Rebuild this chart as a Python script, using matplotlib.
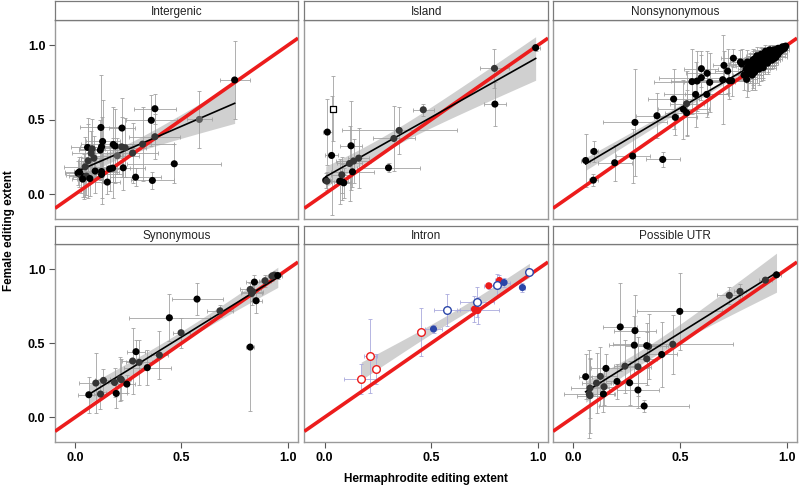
import numpy as np
import matplotlib
matplotlib.use("Agg")
import matplotlib.pyplot as plt

plt.rcParams['font.family'] = ['Liberation Sans', 'DejaVu Sans']

# ---------------- data ----------------
panel_titles = ["Intergenic", "Island", "Nonsynonymous", "Synonymous", "Intron", "Possible UTR"]
tick_values = [0.0, 0.5, 1.0]
tick_labels = ["0.0", "0.5", "1.0"]
x_label = "Hermaphrodite editing extent"
y_label = "Female editing extent"

# Intergenic
ig_x = [0.750, 0.584, 0.375, 0.358, 0.466, 0.375, 0.363, 0.284, 0.317, 0.270, 0.226, 0.220, 0.179, 0.188,
        0.218, 0.235, 0.121, 0.129, 0.124, 0.118, 0.058, 0.080, 0.075, 0.088, 0.061, 0.094, 0.124, 0.124,
        0.151, 0.176, 0.162, 0.013, 0.027, 0.042, 0.053, 0.069, 0.035, 0.198, 0.047, 0.020]
ig_y = [0.767, 0.502, 0.574, 0.496, 0.204, 0.386, 0.092, 0.114, 0.336, 0.276, 0.177, 0.444, 0.334, 0.323,
        0.318, 0.312, 0.448, 0.354, 0.318, 0.296, 0.314, 0.305, 0.274, 0.242, 0.224, 0.155, 0.152, 0.132,
        0.081, 0.175, 0.170, 0.141, 0.128, 0.117, 0.121, 0.105, 0.101, 0.258, 0.184, 0.150]
ig_xerr = [0.07, 0.06, 0.10, 0.12, 0.22, 0.12, 0.10, 0.12, 0.15, 0.12, 0.10, 0.06, 0.15, 0.08,
           0.06, 0.10, 0.10, 0.08, 0.10, 0.10, 0.08, 0.06, 0.09, 0.06, 0.05, 0.10, 0.08, 0.10,
           0.06, 0.08, 0.06, 0.06, 0.07, 0.05, 0.08, 0.06, 0.05, 0.10, 0.10, 0.07]
ig_yerr = [0.26, 0.19, 0.10, 0.17, 0.13, 0.15, 0.06, 0.06, 0.25, 0.20, 0.15, 0.20, 0.25, 0.25,
           0.20, 0.20, 0.35, 0.28, 0.20, 0.20, 0.20, 0.20, 0.15, 0.15, 0.25, 0.15, 0.18, 0.20,
           0.08, 0.20, 0.15, 0.08, 0.12, 0.15, 0.13, 0.12, 0.12, 0.12, 0.20, 0.10]
ig_shade = [0, 2, 0, 0, 0, 1, 0, 0, 1, 1, 0, 0, 0, 0, 1, 1, 0, 0, 0, 0, 0, 1, 1, 1, 1, 0, 0, 0,
            0, 0, 0, 0, 1, 0, 1, 0, 0, 2, 1, 0]

# Island
is_x = [0.990, 0.797, 0.799, 0.463, 0.350, 0.325, 0.300, 0.013, 0.033, 0.124, 0.160, 0.136, 0.117,
        0.131, 0.081, 0.006, 0.011, 0.071, 0.083, 0.090]
is_y = [0.984, 0.845, 0.605, 0.567, 0.428, 0.374, 0.177, 0.417, 0.260, 0.325, 0.242, 0.222, 0.206,
        0.150, 0.130, 0.094, 0.087, 0.087, 0.083, 0.076]
is_xerr = [0.02, 0.07, 0.05, 0.05, 0.27, 0.10, 0.15, 0.02, 0.03, 0.05, 0.05, 0.08, 0.06,
           0.10, 0.05, 0.02, 0.02, 0.04, 0.04, 0.03]
is_yerr = [0.02, 0.13, 0.15, 0.04, 0.16, 0.22, 0.03, 0.22, 0.40, 0.30, 0.20, 0.15, 0.25,
           0.10, 0.12, 0.05, 0.06, 0.15, 0.12, 0.10]
is_shade = [0, 1, 0, 1, 1, 1, 0, 0, 0, 0, 1, 1, 1, 0, 1, 0, 1, 0, 0, 0]
is_open_x = [0.039]
is_open_y = [0.574]
is_open_xerr = [0.01]
is_open_yerr = [0.22]

# Nonsynonymous
ns_x = [0.058, 0.097, 0.094, 0.194, 0.278, 0.289, 0.419, 0.392, 0.470, 0.478, 0.516, 0.531, 0.531,
        0.573, 0.556, 0.580, 0.600, 0.600, 0.627, 0.639, 0.625, 0.700, 0.706, 0.723, 0.731, 0.742,
        0.750, 0.783, 0.789, 0.812, 0.838, 0.816, 0.844,
        0.80, 0.81, 0.82, 0.82, 0.83, 0.83, 0.84, 0.84, 0.85, 0.85, 0.86, 0.86, 0.87, 0.87, 0.87,
        0.88, 0.88, 0.88, 0.89, 0.89, 0.89, 0.90, 0.90, 0.90, 0.91, 0.91, 0.91, 0.92, 0.92, 0.92,
        0.93, 0.93, 0.93, 0.94, 0.94, 0.94, 0.95, 0.95, 0.95, 0.96, 0.96, 0.96, 0.97, 0.97, 0.97,
        0.98, 0.98, 0.98, 0.99, 0.99, 0.995, 0.86, 0.84, 0.89, 0.91, 0.93, 0.95, 0.96, 0.90, 0.92,
        0.88, 0.85, 0.83, 0.82, 0.87, 0.94]
ns_y = [0.226, 0.287, 0.094, 0.211, 0.256, 0.482, 0.233, 0.527, 0.639, 0.516, 0.570, 0.547, 0.608,
        0.670, 0.756, 0.760, 0.783, 0.843, 0.812, 0.751, 0.670, 0.769, 0.865, 0.827, 0.762, 0.762,
        0.913, 0.888, 0.874, 0.771, 0.800, 0.888, 0.856,
        0.80, 0.84, 0.86, 0.81, 0.83, 0.88, 0.85, 0.90, 0.82, 0.87, 0.89, 0.85, 0.91, 0.87, 0.84,
        0.88, 0.92, 0.86, 0.90, 0.93, 0.87, 0.91, 0.94, 0.89, 0.92, 0.95, 0.90, 0.93, 0.91, 0.95,
        0.94, 0.96, 0.92, 0.95, 0.97, 0.93, 0.96, 0.94, 0.97, 0.97, 0.95, 0.98, 0.97, 0.96, 0.98,
        0.98, 0.97, 0.99, 0.99, 0.98, 0.995, 0.93, 0.81, 0.85, 0.88, 0.90, 0.92, 0.94, 0.96, 0.97,
        0.94, 0.91, 0.86, 0.84, 0.89, 0.91]
ns_xerr = [0.02, 0.02, 0.02, 0.08, 0.08, 0.15, 0.08, 0.10, 0.12, 0.10, 0.12, 0.10, 0.08,
           0.15, 0.18, 0.12, 0.20, 0.08, 0.10, 0.12, 0.10, 0.12, 0.05, 0.06, 0.08, 0.10,
           0.06, 0.05, 0.06, 0.05, 0.05, 0.05, 0.06,
           0.05, 0.04, 0.06, 0.05, 0.04, 0.06, 0.05, 0.04, 0.05, 0.06, 0.04, 0.05, 0.06, 0.04, 0.05,
           0.05, 0.04, 0.06, 0.05, 0.04, 0.05, 0.06, 0.04, 0.05, 0.05, 0.04, 0.06, 0.05, 0.04, 0.05,
           0.04, 0.05, 0.04, 0.04, 0.03, 0.05, 0.04, 0.03, 0.04, 0.03, 0.04, 0.03, 0.03, 0.03, 0.02,
           0.02, 0.03, 0.02, 0.02, 0.02, 0.01, 0.05, 0.04, 0.06, 0.05, 0.04, 0.05, 0.04, 0.05, 0.04,
           0.05, 0.06, 0.05, 0.04, 0.05, 0.04]
ns_yerr = [0.18, 0.07, 0.04, 0.12, 0.18, 0.36, 0.05, 0.15, 0.20, 0.12, 0.20, 0.15, 0.22,
           0.22, 0.22, 0.20, 0.15, 0.12, 0.15, 0.20, 0.15, 0.30, 0.10, 0.15, 0.12, 0.10,
           0.06, 0.08, 0.10, 0.12, 0.10, 0.08, 0.12,
           0.10, 0.08, 0.06, 0.12, 0.08, 0.07, 0.10, 0.06, 0.12, 0.08, 0.07, 0.10, 0.06, 0.09, 0.11,
           0.08, 0.06, 0.10, 0.07, 0.05, 0.09, 0.07, 0.05, 0.08, 0.07, 0.04, 0.08, 0.06, 0.07, 0.04,
           0.05, 0.04, 0.07, 0.04, 0.03, 0.06, 0.04, 0.05, 0.03, 0.03, 0.04, 0.02, 0.03, 0.03, 0.02,
           0.02, 0.02, 0.01, 0.01, 0.02, 0.01, 0.06, 0.10, 0.08, 0.07, 0.06, 0.05, 0.04, 0.04, 0.03,
           0.05, 0.06, 0.08, 0.09, 0.07, 0.05]
ns_shade = [0, 0, 0, 0, 0, 0, 0, 0, 0, 0, 0, 0, 1, 0, 0, 0, 0, 0, 0, 0, 0, 0, 0, 0, 0, 0,
            0, 0, 0, 0, 0, 0, 0,
            0, 0, 0, 0, 0, 0, 0, 0, 0, 0, 0, 0, 0, 0, 0,
            0, 0, 0, 0, 0, 0, 0, 0, 0, 0, 0, 0, 0, 0, 0,
            0, 0, 0, 0, 0, 0, 0, 0, 0, 0, 0, 0, 0, 0, 0,
            0, 0, 0, 0, 0, 0, 0, 0, 0, 0, 0, 0, 0, 0, 0,
            0, 0, 0, 0, 0, 0]

# Synonymous
sy_x = [0.064, 0.097, 0.119, 0.133, 0.185, 0.193, 0.212, 0.217, 0.243, 0.270, 0.286, 0.301, 0.339,
        0.396, 0.443, 0.498, 0.573, 0.681, 0.823, 0.823, 0.830, 0.843, 0.851, 0.893, 0.926, 0.937,
        0.953, 0.835]
sy_y = [0.152, 0.231, 0.157, 0.249, 0.235, 0.161, 0.260, 0.254, 0.224, 0.380, 0.443, 0.371, 0.335,
        0.420, 0.672, 0.571, 0.798, 0.719, 0.474, 0.863, 0.836, 0.913, 0.787, 0.922, 0.953, 0.960,
        0.957, 0.848]
sy_xerr = [0.05, 0.08, 0.03, 0.04, 0.03, 0.05, 0.05, 0.04, 0.04, 0.05, 0.04, 0.06, 0.11,
           0.04, 0.19, 0.04, 0.12, 0.06, 0.02, 0.05, 0.05, 0.04, 0.03, 0.03, 0.02, 0.02,
           0.02, 0.05]
sy_yerr = [0.12, 0.20, 0.10, 0.08, 0.10, 0.10, 0.15, 0.14, 0.06, 0.22, 0.08, 0.15, 0.12,
           0.16, 0.16, 0.10, 0.11, 0.04, 0.43, 0.05, 0.08, 0.05, 0.08, 0.04, 0.03, 0.02,
           0.02, 0.06]
sy_shade = [0, 1, 1, 1, 1, 0, 1, 1, 0, 1, 0, 1, 0, 1, 0, 1, 0, 1, 0, 1, 1, 0, 0, 1, 1, 1, 0, 1]

# Intron (colour / filled)
in_x = [0.172, 0.214, 0.242, 0.453, 0.511, 0.573, 0.703, 0.719, 0.714, 0.770, 0.820, 0.811, 0.842,
        0.928, 0.961]
in_y = [0.258, 0.411, 0.326, 0.575, 0.596, 0.724, 0.730, 0.721, 0.778, 0.888, 0.924, 0.890, 0.910,
        0.876, 0.980]
in_xerr = [0.08, 0.03, 0.02, 0.02, 0.04, 0.06, 0.02, 0.10, 0.08, 0.02, 0.02, 0.03, 0.03, 0.01, 0.01]
in_yerr = [0.10, 0.25, 0.10, 0.16, 0.03, 0.11, 0.09, 0.09, 0.10, 0.02, 0.04, 0.08, 0.03, 0.03, 0.01]
in_color = ["red", "red", "red", "red", "blue", "blue", "red", "red", "blue", "red", "red", "blue",
            "blue", "blue", "blue"]
in_filled = [0, 0, 0, 0, 1, 0, 1, 1, 0, 1, 1, 0, 1, 1, 0]

# Possible UTR
ut_x = [0.952, 0.900, 0.781, 0.731, 0.499, 0.466, 0.414, 0.353, 0.344, 0.344, 0.332, 0.303, 0.303,
        0.286, 0.289, 0.220, 0.242, 0.264, 0.205, 0.153, 0.144, 0.141, 0.127, 0.109, 0.058, 0.078,
        0.075, 0.078]
ut_y = [0.962, 0.926, 0.850, 0.823, 0.715, 0.493, 0.424, 0.478, 0.484, 0.395, 0.076, 0.184, 0.341,
        0.487, 0.585, 0.610, 0.345, 0.233, 0.242, 0.330, 0.206, 0.157, 0.276, 0.231, 0.274, 0.197,
        0.157, 0.146]
ut_xerr = [0.02, 0.03, 0.03, 0.06, 0.20, 0.28, 0.07, 0.08, 0.10, 0.05, 0.21, 0.10, 0.06,
           0.12, 0.10, 0.08, 0.05, 0.08, 0.05, 0.07, 0.05, 0.05, 0.08, 0.07, 0.03, 0.09,
           0.12, 0.06]
ut_yerr = [0.01, 0.02, 0.05, 0.06, 0.26, 0.20, 0.22, 0.22, 0.15, 0.18, 0.04, 0.12, 0.20,
           0.20, 0.24, 0.30, 0.18, 0.15, 0.12, 0.10, 0.12, 0.12, 0.20, 0.20, 0.15, 0.20,
           0.30, 0.25]
ut_shade = [0, 1, 1, 1, 0, 1, 0, 1, 0, 1, 0, 0, 1, 0, 0, 0, 1, 0, 0, 0, 1, 0, 1, 1, 0, 1, 1, 1]

# ---------------- style ----------------
XLIM = (-0.095, 1.048)
YLIM = (-0.167, 1.17)
SHADES = ["#000000", "#353535", "#5c5c5c"]
ERR_COL = "#a2a2a2"
RED = "#ec1c1c"
BLUE = "#2b46a8"
BORDER = "#9a9a9a"


def tq975(df):
    z = 1.959964
    return z + (z**3 + z) / (4 * df) + (5 * z**5 + 16 * z**3 + 3 * z) / (96 * df**2)


def fit_band(ax, x, y, line=True):
    x = np.asarray(x, float)
    y = np.asarray(y, float)
    n = len(x)
    b, a = np.polyfit(x, y, 1)
    xs = np.linspace(x.min(), x.max(), 100)
    yh = a + b * xs
    resid = y - (a + b * x)
    s = np.sqrt(np.sum(resid**2) / (n - 2))
    sxx = np.sum((x - x.mean())**2)
    se = s * np.sqrt(1.0 / n + (xs - x.mean())**2 / sxx)
    t = tq975(n - 2)
    ax.fill_between(xs, yh - t * se, yh + t * se, color="#c8c8c8", alpha=0.85, lw=0, zorder=2)
    if line:
        ax.plot(xs, yh, color="black", lw=1.2, zorder=5)


def points(ax, x, y, xe, ye, shade):
    ax.errorbar(x, y, xerr=xe, yerr=ye, fmt="none", ecolor=ERR_COL, elinewidth=0.6,
                capsize=1.2, capthick=0.6, zorder=3)
    cols = [SHADES[s] for s in shade]
    ax.scatter(x, y, s=26, c=cols, edgecolors="none", zorder=6)


W, H = 799, 486
fig = plt.figure(figsize=(W / 100, H / 100), dpi=100)

col_px = [(55, 298), (304.3, 548), (553, 797)]
row_px = [(20, 219, 1), (244, 442, 225.5)]


def fig_rect(x0, x1, ytop, ybot):
    return [x0 / W, 1 - ybot / H, (x1 - x0) / W, (ybot - ytop) / H]


axes = []
for r, (yt, yb, st) in enumerate(row_px):
    for c, (x0, x1) in enumerate(col_px):
        ax = fig.add_axes(fig_rect(x0, x1, yt, yb))
        ax.set_xlim(*XLIM)
        ax.set_ylim(*YLIM)
        for sp in ax.spines.values():
            sp.set_color(BORDER)
            sp.set_linewidth(1.0)
        ax.plot(XLIM, XLIM, color=RED, lw=2.6, zorder=4, solid_capstyle="butt")
        if c == 0:
            ax.set_yticks(tick_values)
            ax.set_yticklabels(tick_labels, fontweight="bold", fontsize=9)
        else:
            ax.set_yticks([])
        if r == 1:
            ax.set_xticks(tick_values)
            ax.set_xticklabels(tick_labels, fontweight="bold", fontsize=9)
        else:
            ax.set_xticks([])
        ax.tick_params(length=4, color="#555555", pad=3)
        # strip
        sax = fig.add_axes(fig_rect(x0, x1, st, yt))
        sax.set_xticks([])
        sax.set_yticks([])
        for sp in sax.spines.values():
            sp.set_color("#7a7a7a")
            sp.set_linewidth(0.9)
        sax.text(0.5, 0.44, panel_titles[r * 3 + c], ha="center", va="center", fontsize=8.5,
                 color="#222222", transform=sax.transAxes)
        axes.append(ax)

# Intergenic
fit_band(axes[0], ig_x, ig_y)
points(axes[0], ig_x, ig_y, ig_xerr, ig_yerr, ig_shade)

# Island
fit_band(axes[1], is_x, is_y)
points(axes[1], is_x, is_y, is_xerr, is_yerr, is_shade)
axes[1].errorbar(is_open_x, is_open_y, xerr=is_open_xerr, yerr=is_open_yerr, fmt="none",
                 ecolor=ERR_COL, elinewidth=0.6, capsize=1.2, capthick=0.6, zorder=3)
axes[1].scatter(is_open_x, is_open_y, s=22, marker="s", facecolors="white", edgecolors="black",
                linewidths=0.9, zorder=6)

# Nonsynonymous
fit_band(axes[2], ns_x, ns_y)
points(axes[2], ns_x, ns_y, ns_xerr, ns_yerr, ns_shade)

# Synonymous
fit_band(axes[3], sy_x, sy_y)
points(axes[3], sy_x, sy_y, sy_xerr, sy_yerr, sy_shade)

# Intron
fit_band(axes[4], in_x, in_y, line=False)
axes[4].errorbar(in_x, in_y, xerr=in_xerr, yerr=in_yerr, fmt="none", ecolor="#a9a9dd",
                 elinewidth=0.6, capsize=1.2, capthick=0.6, zorder=3)
for xi, yi, ci, fi in zip(in_x, in_y, in_color, in_filled):
    cc = RED if ci == "red" else BLUE
    if fi:
        axes[4].scatter([xi], [yi], s=26, c=cc, edgecolors="none", zorder=6)
    else:
        axes[4].scatter([xi], [yi], s=30, facecolors="white", edgecolors=cc, linewidths=1.0, zorder=6)

# Possible UTR
fit_band(axes[5], ut_x, ut_y)
points(axes[5], ut_x, ut_y, ut_xerr, ut_yerr, ut_shade)

fig.text(426 / W, 1 - 479 / H, x_label, ha="center", va="center", fontsize=8.5, fontweight="bold")
fig.text(9 / W, 1 - 231 / H, y_label, ha="center", va="center", rotation=90, fontsize=8.5,
         fontweight="bold")

fig.savefig("out.png", dpi=100)
